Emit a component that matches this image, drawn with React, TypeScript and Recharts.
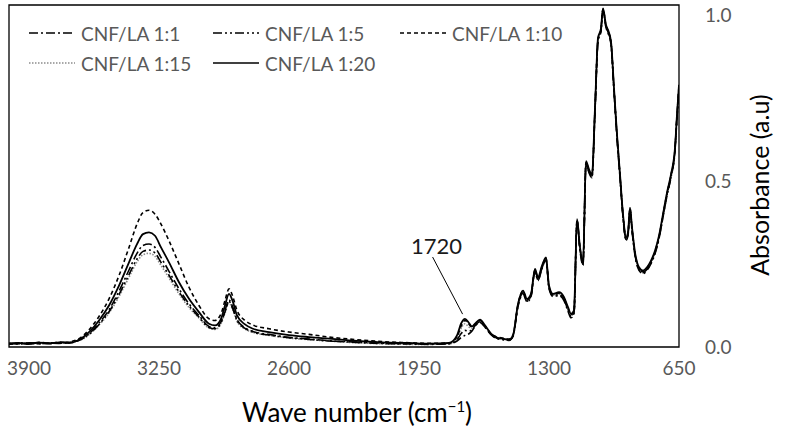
import React from "react";
import {
  LineChart,
  Line,
  XAxis,
  YAxis,
  ReferenceArea,
  ReferenceLine,
  ReferenceDot,
  Label,
} from "recharts";

const FONT = "Lato, 'Open Sans', sans-serif";

// wave numbers (cm-1), high to low like the spectrometer export
const wavenumbers = [
  4000, 3950, 3900, 3850, 3800, 3750, 3700, 3650, 3600, 3550, 3500, 3450, 3400,
  3360, 3330, 3300, 3270, 3240, 3200, 3150, 3100, 3050, 3000, 2970, 2940, 2920,
  2900, 2880, 2860, 2820, 2780, 2700, 2600, 2500, 2400, 2300, 2200, 2100, 2000,
  1900, 1800, 1760, 1740, 1720, 1700, 1685, 1670, 1645, 1620, 1590, 1560, 1530,
  1500, 1480, 1455, 1430, 1410, 1390, 1370, 1355, 1335, 1315, 1300, 1280, 1250,
  1225, 1205, 1190, 1175, 1160, 1145, 1130, 1115, 1100, 1085, 1070, 1055, 1040,
  1030, 1015, 1005, 990, 975, 960, 945, 930, 915, 905, 895, 885, 870, 850, 830,
  810, 790, 770, 750, 730, 710, 690, 670, 660, 650,
];

const ratio1to1 = [
  0.012, 0.009, 0.013, 0.011, 0.01, 0.015, 0.013, 0.02, 0.04, 0.072, 0.112, 0.168, 0.232,
  0.282, 0.306, 0.31, 0.3, 0.27, 0.228, 0.175, 0.13, 0.095, 0.062, 0.058, 0.076, 0.11,
  0.142, 0.118, 0.083, 0.058, 0.047, 0.038, 0.029, 0.024, 0.019, 0.015, 0.012, 0.01, 0.009,
  0.008, 0.01, 0.018, 0.028, 0.035, 0.04, 0.048, 0.062, 0.074, 0.06, 0.038, 0.026, 0.022,
  0.02, 0.032, 0.122, 0.16, 0.136, 0.152, 0.226, 0.2, 0.236, 0.262, 0.176, 0.152, 0.155,
  0.14, 0.108, 0.088, 0.1, 0.376, 0.29, 0.246, 0.55, 0.525, 0.51, 0.71, 0.92, 0.952,
  1.012, 0.962, 0.946, 0.911, 0.77, 0.63, 0.51, 0.391, 0.321, 0.336, 0.411, 0.351, 0.276, 0.231, 0.221,
  0.231, 0.251, 0.281, 0.326, 0.391, 0.456, 0.511, 0.591, 0.69, 0.77,
];

const ratio1to5 = [
  0.009, 0.013, 0.01, 0.014, 0.012, 0.011, 0.014, 0.021, 0.038, 0.068, 0.106, 0.158, 0.218,
  0.265, 0.288, 0.292, 0.283, 0.255, 0.216, 0.166, 0.124, 0.09, 0.059, 0.055, 0.073, 0.106,
  0.137, 0.114, 0.08, 0.056, 0.045, 0.036, 0.028, 0.023, 0.018, 0.016, 0.013, 0.011, 0.01,
  0.009, 0.01, 0.022, 0.04, 0.05, 0.048, 0.052, 0.064, 0.076, 0.061, 0.037, 0.025, 0.023,
  0.021, 0.033, 0.125, 0.163, 0.138, 0.154, 0.228, 0.202, 0.238, 0.265, 0.178, 0.155, 0.158,
  0.143, 0.112, 0.092, 0.104, 0.379, 0.294, 0.249, 0.553, 0.528, 0.513, 0.713, 0.923, 0.955,
  1.015, 0.965, 0.949, 0.914, 0.773, 0.633, 0.513, 0.394, 0.324, 0.339, 0.414, 0.354, 0.279, 0.234, 0.224,
  0.234, 0.254, 0.284, 0.329, 0.394, 0.459, 0.514, 0.594, 0.694, 0.778,
];

const ratio1to10 = [
  0.008, 0.01, 0.011, 0.01, 0.013, 0.012, 0.015, 0.025, 0.052, 0.092, 0.145, 0.215, 0.3,
  0.37, 0.405, 0.412, 0.4, 0.37, 0.32, 0.25, 0.18, 0.125, 0.085, 0.08, 0.1, 0.14,
  0.175, 0.15, 0.11, 0.08, 0.066, 0.055, 0.045, 0.038, 0.03, 0.024, 0.019, 0.015, 0.013,
  0.011, 0.012, 0.03, 0.062, 0.08, 0.068, 0.06, 0.068, 0.08, 0.063, 0.04, 0.03, 0.027,
  0.024, 0.036, 0.128, 0.168, 0.142, 0.158, 0.232, 0.206, 0.242, 0.268, 0.182, 0.158, 0.162,
  0.147, 0.116, 0.097, 0.108, 0.382, 0.297, 0.252, 0.556, 0.531, 0.516, 0.716, 0.926, 0.957,
  1.018, 0.967, 0.952, 0.917, 0.776, 0.636, 0.516, 0.397, 0.327, 0.342, 0.417, 0.357, 0.282, 0.237, 0.227,
  0.237, 0.257, 0.287, 0.332, 0.397, 0.462, 0.517, 0.597, 0.697, 0.786,
];

const ratio1to15 = [
  0.011, 0.01, 0.012, 0.009, 0.013, 0.012, 0.015, 0.019, 0.037, 0.066, 0.102, 0.152, 0.21,
  0.256, 0.278, 0.282, 0.273, 0.246, 0.208, 0.16, 0.119, 0.087, 0.057, 0.053, 0.07, 0.102,
  0.132, 0.11, 0.077, 0.054, 0.044, 0.035, 0.027, 0.022, 0.018, 0.014, 0.011, 0.009, 0.008,
  0.008, 0.009, 0.026, 0.055, 0.07, 0.06, 0.056, 0.066, 0.078, 0.062, 0.039, 0.027, 0.024,
  0.021, 0.034, 0.126, 0.165, 0.14, 0.156, 0.23, 0.204, 0.24, 0.266, 0.18, 0.156, 0.16,
  0.145, 0.114, 0.094, 0.106, 0.38, 0.295, 0.25, 0.555, 0.53, 0.515, 0.715, 0.925, 0.956,
  1.016, 0.966, 0.95, 0.915, 0.775, 0.635, 0.515, 0.395, 0.325, 0.34, 0.415, 0.355, 0.28, 0.235, 0.225,
  0.235, 0.255, 0.285, 0.33, 0.395, 0.46, 0.515, 0.595, 0.695, 0.782,
];

const ratio1to20 = [
  0.01, 0.012, 0.009, 0.013, 0.011, 0.014, 0.012, 0.022, 0.045, 0.08, 0.125, 0.185, 0.255,
  0.31, 0.34, 0.345, 0.335, 0.3, 0.255, 0.195, 0.145, 0.105, 0.07, 0.065, 0.085, 0.125,
  0.16, 0.135, 0.095, 0.068, 0.055, 0.045, 0.036, 0.03, 0.025, 0.02, 0.016, 0.013, 0.012,
  0.01, 0.012, 0.035, 0.07, 0.085, 0.072, 0.062, 0.07, 0.082, 0.065, 0.04, 0.028, 0.025,
  0.022, 0.035, 0.13, 0.17, 0.145, 0.16, 0.235, 0.21, 0.245, 0.27, 0.185, 0.16, 0.165,
  0.15, 0.12, 0.1, 0.11, 0.385, 0.3, 0.255, 0.56, 0.535, 0.52, 0.72, 0.93, 0.96,
  1.02, 0.97, 0.955, 0.92, 0.78, 0.64, 0.52, 0.4, 0.33, 0.345, 0.42, 0.36, 0.285, 0.24, 0.23,
  0.24, 0.26, 0.29, 0.335, 0.4, 0.465, 0.52, 0.6, 0.7, 0.79,
];

const seriesNames = ["CNF/LA 1:1", "CNF/LA 1:5", "CNF/LA 1:10", "CNF/LA 1:15", "CNF/LA 1:20"];
const xTicks = [3900, 3250, 2600, 1950, 1300, 650];
const yTicks = [0, 0.5, 1];

const chartData = wavenumbers.map((wn, i) => ({
  wn,
  r1: ratio1to1[i],
  r5: ratio1to5[i],
  r10: ratio1to10[i],
  r15: ratio1to15[i],
  r20: ratio1to20[i],
}));

// line look per series (legend order)
const seriesStyle = [
  { key: "r1", dash: "9 3 2 3", color: "#000", width: 1.6 },
  { key: "r5", dash: "9 3 2 3 2 3", color: "#000", width: 1.6 },
  { key: "r10", dash: "4 3", color: "#000", width: 1.6 },
  { key: "r15", dash: "1.5 1.5", color: "#8c8c8c", width: 1.6 },
  { key: "r20", dash: undefined, color: "#000", width: 1.8 },
];
// draw order: solid on top
const drawOrder = [3, 1, 0, 2, 4];

function ChartLegend() {
  return (
    <div
      style={{
        position: "absolute",
        left: 29,
        top: 18,
        display: "grid",
        gridTemplateColumns: "184px 187px 180px",
        gridAutoRows: "30px",
        fontFamily: FONT,
        fontSize: 19,
        color: "#595959",
      }}
    >
      {seriesNames.map((name, i) => {
        const s = seriesStyle[i];
        return (
          <div key={name} style={{ display: "flex", alignItems: "center", whiteSpace: "nowrap" }}>
            <svg width={46} height={10} style={{ marginRight: 6 }}>
              <line x1={0} y1={5} x2={46} y2={5} stroke={s.color} strokeWidth={1.6} strokeDasharray={s.dash} />
            </svg>
            <span>{name}</span>
          </div>
        );
      })}
    </div>
  );
}

const renderXTitle = (props: any) => {
  const vb = props.viewBox;
  const x = vb.x + vb.width / 2 + 13;
  const y = vb.y + 75;
  return (
    <text x={x} y={y} textAnchor="middle" fontFamily={FONT} fontSize={26} fill="#000">
      Wave number (cm
      <tspan dy={-10} fontSize={15}>−1</tspan>
      <tspan dy={10}>)</tspan>
    </text>
  );
};

const renderYTitle = (props: any) => {
  const vb = props.viewBox;
  const x = vb.x + 80;
  const y = vb.y + vb.height / 2 + 9;
  return (
    <text
      x={x}
      y={y}
      transform={`rotate(-90, ${x}, ${y})`}
      textAnchor="middle"
      dominantBaseline="central"
      fontFamily={FONT}
      fontSize={25}
      fill="#000"
    >
      Absorbance (a.u)
    </text>
  );
};

export default function App() {
  return (
    <div style={{ position: "absolute", left: 0, top: 0, width: 790, height: 437, background: "#fff" }}>
      <LineChart width={790} height={437} data={chartData} margin={{ top: 5, right: 0, bottom: 0, left: 9 }}>
        <XAxis
          dataKey="wn"
          type="number"
          reversed
          domain={[650, 4000]}
          allowDataOverflow
          ticks={xTicks}
          interval={0}
          height={90}
          axisLine={false}
          tickLine={false}
          tickSize={0}
          tickMargin={15}
          tick={{ fontFamily: FONT, fontSize: 19, fill: "#595959" }}
        >
          <Label content={renderXTitle} />
        </XAxis>
        <YAxis
          orientation="right"
          type="number"
          domain={[0, 1.03]}
          allowDataOverflow
          ticks={yTicks}
          width={111}
          axisLine={false}
          tickLine={false}
          tickSize={0}
          tickMargin={26}
          tickFormatter={(v: number) => v.toFixed(1)}
          tick={{ fontFamily: FONT, fontSize: 19, fill: "#595959", textAnchor: "start" }}
        >
          <Label content={renderYTitle} />
        </YAxis>
        {drawOrder.map((i) => {
          const s = seriesStyle[i];
          return (
            <Line
              key={s.key}
              dataKey={s.key}
              name={seriesNames[i]}
              type="monotone"
              stroke={s.color}
              strokeWidth={s.width}
              strokeDasharray={s.dash}
              dot={false}
              activeDot={false}
              isAnimationActive={false}
            />
          );
        })}
        <ReferenceLine
          segment={[
            { x: 1882, y: 0.271 },
            { x: 1732, y: 0.099 },
          ]}
          stroke="#000"
          strokeWidth={1}
        />
        <ReferenceDot
          x={1862}
          y={0.304}
          r={1}
          fill="none"
          stroke="none"
          label={{ value: "1720", position: "center", fontFamily: FONT, fontSize: 22, fill: "#1a1a1a" }}
        />
        <ReferenceArea x1={4000} x2={650} y1={0} y2={1.03} fill="none" stroke="#000" strokeWidth={1.3} fillOpacity={0} />
      </LineChart>
      <ChartLegend />
    </div>
  );
}
